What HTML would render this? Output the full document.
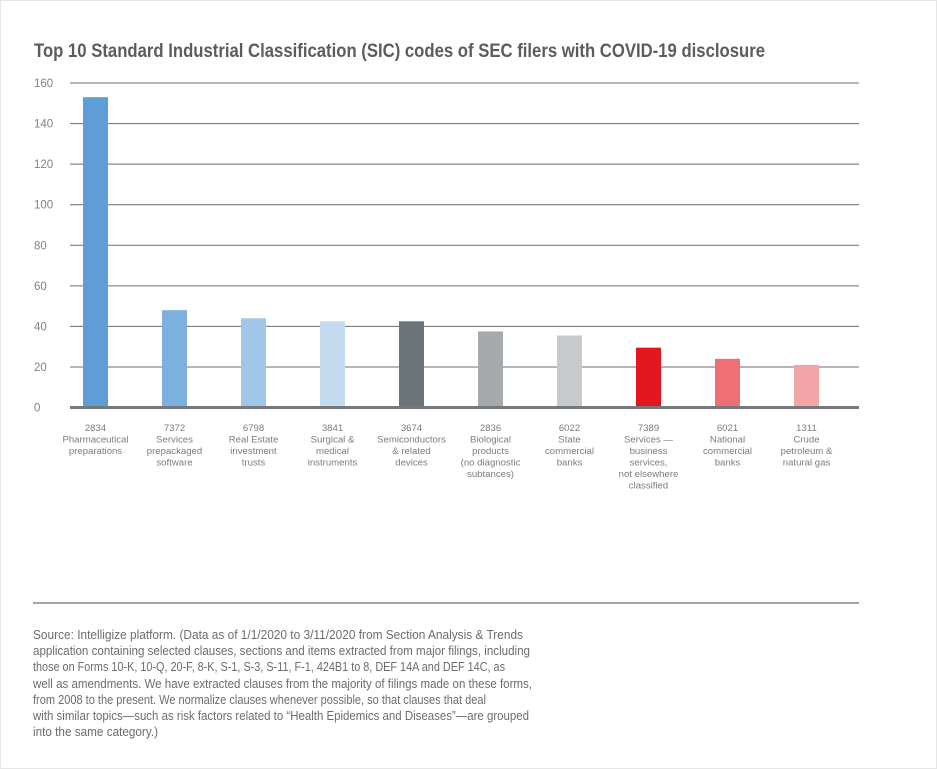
<!DOCTYPE html>
<html><head><meta charset="utf-8"><style>
html,body{margin:0;padding:0;background:#fff;}
svg{display:block;font-family:"Liberation Sans",sans-serif;}
</style></head><body>
<svg id="chart" width="937" height="769" viewBox="0 0 937 769">
<rect x="0.5" y="0.5" width="936" height="768" fill="#fff" stroke="#e6e6e6"/>
<text x="34" y="57" font-size="19" font-weight="bold" fill="#5a5d60" textLength="731" lengthAdjust="spacingAndGlyphs">Top 10 Standard Industrial Classification (SIC) codes of SEC filers with COVID-19 disclosure</text>
<g id="grid"></g><g id="bars"></g><g id="xlabels"></g>
<line x1="33" y1="603" x2="859" y2="603" stroke="#6d6d6d" stroke-width="1.2"/>
<g font-size="12.6" fill="#6a6d70">
<text x="33" y="639" textLength="490" lengthAdjust="spacingAndGlyphs">Source: Intelligize platform. (Data as of  1/1/2020 to 3/11/2020 from Section Analysis &amp; Trends</text>
<text x="33" y="655" textLength="497" lengthAdjust="spacingAndGlyphs">application containing selected clauses, sections and items extracted from major filings, including</text>
<text x="33" y="671" textLength="472" lengthAdjust="spacingAndGlyphs">those on Forms 10-K, 10-Q, 20-F, 8-K, S-1, S-3, S-11, F-1, 424B1 to 8, DEF 14A and DEF 14C, as</text>
<text x="33" y="688" textLength="499" lengthAdjust="spacingAndGlyphs">well as amendments. We have extracted clauses from the majority of filings made on these forms,</text>
<text x="33" y="704" textLength="453" lengthAdjust="spacingAndGlyphs">from 2008 to the present. We normalize clauses whenever possible, so that clauses that deal</text>
<text x="33" y="720" textLength="496" lengthAdjust="spacingAndGlyphs">with similar topics—such as risk factors related to “Health Epidemics and Diseases”—are grouped</text>
<text x="33" y="736" textLength="125" lengthAdjust="spacingAndGlyphs">into the same category.)</text>
</g>
</svg>
<script>
const categories = ["2834","7372","6798","3841","3674","2836","6022","7389","6021","1311"];
const descriptions = [
 ["Pharmaceutical","preparations"],
 ["Services","prepackaged","software"],
 ["Real Estate","investment","trusts"],
 ["Surgical &","medical","instruments"],
 ["Semiconductors","& related","devices"],
 ["Biological","products","(no diagnostic","subtances)"],
 ["State","commercial","banks"],
 ["Services —","business","services,","not elsewhere","classified"],
 ["National","commercial","banks"],
 ["Crude","petroleum &","natural gas"]
];
const values = [153, 48, 44, 42.5, 42.5, 37.5, 35.5, 29.5, 24, 21];
const colors = ["#5e9dd6","#7eb0df","#a2c6e7","#c3daef","#6b7479","#a6aaac","#c7cacc","#e3151f","#ee6f76","#f3a4a7"];
const yTicks = [0,20,40,60,80,100,120,140,160];

const NS = "http://www.w3.org/2000/svg";
const y0 = 407.5, y1 = 83, yMax = 160;
const yScale = v => y0 - (v / yMax) * (y0 - y1);
const xLeft = 56, step = 79, bw = 25;
const xCenter = i => xLeft + step * (i + 0.5);
function mk(tag, attrs, parent){ const e=document.createElementNS(NS,tag); for(const k in attrs) e.setAttribute(k,attrs[k]); parent.appendChild(e); return e; }

const grid = document.getElementById('grid');
yTicks.forEach(t => {
  const y = yScale(t);
  const l = mk('line',{x1:70,x2:859,y1:y,y2:y,stroke:t===0?'#75797c':'#6d6d6d','stroke-width':t===0?3:1},grid);
  
  
  const tx = mk('text',{x:34,y:y+4,'font-size':11.5,fill:'#7f8183'},grid);
  tx.textContent = t;
  
  
});

const bars = document.getElementById('bars');
const xl = document.getElementById('xlabels');
values.forEach((v,i) => {
  const cx = xCenter(i), top = yScale(v);
  const r = mk('rect',{x:cx-bw/2,y:top,width:bw,height:y0-1.5-top,fill:colors[i]},bars);
  
  
  const lines = [categories[i]].concat(descriptions[i]);
  const g = mk('g',{},xl);
  
  
  lines.forEach((s,j) => {
    const t = mk('text',{x:cx,y:431+j*11.5,'font-size':9.6,fill:'#7a7c7e','text-anchor':'middle'},g);
    t.textContent = s;
  });
});
</script>
</body></html>
